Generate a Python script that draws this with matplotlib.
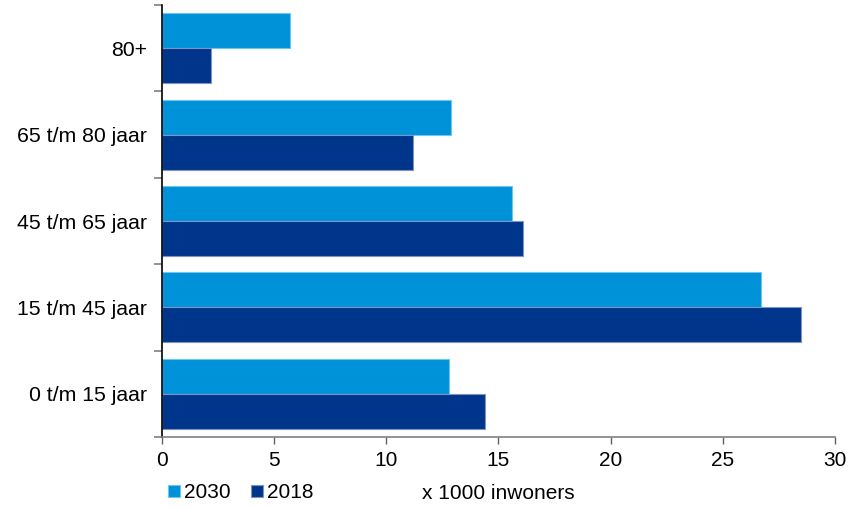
import matplotlib.pyplot as plt
import numpy as np

plt.rcParams['font.family'] = ['Liberation Sans', 'DejaVu Sans']

# leeftijdsgroepen, van onder naar boven
categories = ['0 t/m 15 jaar', '15 t/m 45 jaar', '45 t/m 65 jaar', '65 t/m 80 jaar', '80+']
values_2030 = [12.8, 26.7, 15.6, 12.9, 5.7]
values_2018 = [14.4, 28.5, 16.1, 11.2, 2.2]
x_ticks = [0, 5, 10, 15, 20, 25, 30]

color_2030 = '#0092D8'
color_2018 = '#00358C'

fig = plt.figure(figsize=(8.49, 5.07), dpi=100)
ax = fig.add_axes([0.1908, 0.138, 0.7927, 0.852])

y = np.arange(len(categories))
h = 0.405
ax.barh(y + h / 2, values_2030, height=h, color=color_2030,
        edgecolor='#6CC6F0', linewidth=0.8, label='2030')
ax.barh(y - h / 2, values_2018, height=h, color=color_2018,
        edgecolor='#7F93C2', linewidth=0.8, label='2018')

ax.set_xlim(0, 30)
ax.set_ylim(-0.5, len(categories) - 0.5)
ax.set_xticks(x_ticks)
ax.set_xticklabels([str(t) for t in x_ticks], fontsize=15)
ax.set_yticks(y)
ax.set_yticklabels(categories, fontsize=15.3)
ax.tick_params(axis='y', which='major', length=0, pad=11)
ax.set_yticks(np.arange(-0.5, len(categories)), minor=True)
ax.tick_params(axis='y', which='minor', length=6, color='#808080', width=1.2)
ax.tick_params(axis='x', length=5, color='#606060', width=1, pad=5)

for side in ['top', 'right']:
    ax.spines[side].set_visible(False)
ax.spines['left'].set_color('black')
ax.spines['left'].set_linewidth(1.2)
ax.spines['bottom'].set_color('#808080')
ax.spines['bottom'].set_linewidth(1.2)

ax.set_xlabel('x 1000 inwoners', fontsize=15, labelpad=10)

leg = ax.legend(loc='center left', ncol=2, frameon=False, fontsize=15,
                handlelength=0.55, handleheight=0.55, handletextpad=0.2,
                columnspacing=1.0, borderaxespad=0, borderpad=0)
leg.set_bbox_to_anchor((0.198, 0.028), transform=fig.transFigure)

fig.savefig('out.png', dpi=100)
